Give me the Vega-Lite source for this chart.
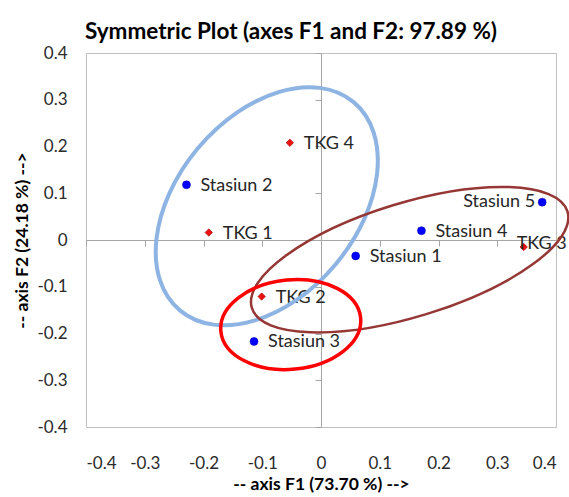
{
  "$schema": "https://vega.github.io/schema/vega-lite/v6.json",
  "width": 470,
  "height": 374,
  "autosize": {"type": "none"},
  "padding": {"left": 86, "top": 53, "right": 13, "bottom": 70},
  "background": "#ffffff",
  "title": {
    "text": "Symmetric Plot (axes F1 and F2: 97.89 %)",
    "anchor": "middle",
    "dx": -30,
    "dy": 31,
    "offset": 14,
    "fontSize": 22.5,
    "font": "Lato",
    "fontWeight": "bold",
    "color": "#000000",
    "baseline": "alphabetic"
  },
  "config": {
    "view": {"stroke": "#bfbfbf", "strokeWidth": 1},
    "font": "Lato"
  },
  "datasets": {
    "points": [
      {"name": "Stasiun 1", "type": "Stasiun", "F1": 0.059, "F2": -0.034},
      {"name": "Stasiun 2", "type": "Stasiun", "F1": -0.229, "F2": 0.118},
      {"name": "Stasiun 3", "type": "Stasiun", "F1": -0.114, "F2": -0.217},
      {"name": "Stasiun 4", "type": "Stasiun", "F1": 0.171, "F2": 0.020},
      {"name": "Stasiun 5", "type": "Stasiun", "F1": 0.3765, "F2": 0.081},
      {"name": "TKG 1", "type": "TKG", "F1": -0.191, "F2": 0.016},
      {"name": "TKG 2", "type": "TKG", "F1": -0.101, "F2": -0.121},
      {"name": "TKG 3", "type": "TKG", "F1": 0.345, "F2": -0.015},
      {"name": "TKG 4", "type": "TKG", "F1": -0.053, "F2": 0.208}
    ],
    "ellipses": [
      {"group": "blue", "F1": -0.0923, "F2": 0.0722},
      {"group": "brown", "F1": 0.1509, "F2": -0.0422},
      {"group": "red", "F1": -0.0515, "F2": -0.1809}
    ]
  },
  "resolve": {"axis": {"x": "independent", "y": "independent"}},
  "layer": [
    {
      "data": {"name": "points"},
      "transform": [{"filter": "datum.type == 'Stasiun'"}],
      "mark": {"type": "point", "shape": "circle", "filled": true, "fill": "#0000ff", "stroke": "#0000b0", "strokeWidth": 0.5, "size": 64, "opacity": 1},
      "encoding": {
        "x": {
          "field": "F1", "type": "quantitative",
          "scale": {"domain": [-0.4, 0.4], "nice": false, "zero": false},
          "axis": {
            "orient": "bottom",
            "title": "-- axis F1 (73.70 %) -->",
            "values": [-0.4, -0.3, -0.2, -0.1, 0, 0.1, 0.2, 0.3, 0.4],
            "labelExpr": "'' + datum.value",
            "domain": false, "ticks": false, "grid": false,
            "labelPadding": 28, "labelFontSize": 17, "labelFont": "Lato", "labelColor": "#2b2b2b",
            "titleFontSize": 17.5, "titleFont": "Lato", "titleFontWeight": "bold", "titleColor": "#000000",
            "titlePadding": 4
          }
        },
        "y": {
          "field": "F2", "type": "quantitative",
          "scale": {"domain": [-0.4, 0.4], "nice": false, "zero": false},
          "axis": {
            "orient": "left",
            "title": "-- axis F2 (24.18 %) -->",
            "values": [-0.4, -0.3, -0.2, -0.1, 0, 0.1, 0.2, 0.3, 0.4],
            "labelExpr": "'' + datum.value",
            "domain": false, "ticks": false, "grid": false,
            "labelPadding": 19, "labelFontSize": 17, "labelFont": "Lato", "labelColor": "#2b2b2b",
            "titleFontSize": 17.5, "titleFont": "Lato", "titleFontWeight": "bold", "titleColor": "#000000",
            "titlePadding": 5
          }
        }
      }
    },
    {
      "data": {"name": "points"},
      "transform": [{"filter": "datum.type == 'TKG'"}],
      "mark": {"type": "point", "shape": "diamond", "filled": true, "fill": "#ee1111", "stroke": "#990000", "strokeWidth": 0.6, "size": 55, "opacity": 1},
      "encoding": {
        "x": {
          "field": "F1", "type": "quantitative",
          "axis": {
            "orient": "bottom", "offset": -187, "title": null, "labels": false,
            "values": [-0.4, -0.3, -0.2, -0.1, 0, 0.1, 0.2, 0.3, 0.4],
            "domain": true, "domainColor": "#a6a6a6", "domainWidth": 1,
            "ticks": true, "tickColor": "#a6a6a6", "tickSize": 6, "tickWidth": 1, "grid": false
          }
        },
        "y": {
          "field": "F2", "type": "quantitative",
          "axis": {
            "orient": "left", "offset": -235, "title": null, "labels": false,
            "values": [-0.4, -0.3, -0.2, -0.1, 0, 0.1, 0.2, 0.3, 0.4],
            "domain": true, "domainColor": "#a6a6a6", "domainWidth": 1,
            "ticks": true, "tickColor": "#a6a6a6", "tickSize": 6, "tickWidth": 1, "grid": false
          }
        }
      }
    },
    {
      "data": {"name": "points"},
      "transform": [{"filter": "datum.name != 'Stasiun 5' && datum.name != 'TKG 3'"}],
      "mark": {"type": "text", "align": "left", "baseline": "middle", "dx": 14, "dy": 1, "fontSize": 18, "font": "Lato", "color": "#262626"},
      "encoding": {
        "x": {"field": "F1", "type": "quantitative", "axis": null},
        "y": {"field": "F2", "type": "quantitative", "axis": null},
        "text": {"field": "name"}
      }
    },
    {
      "data": {"name": "points"},
      "transform": [{"filter": "datum.name == 'Stasiun 5'"}],
      "mark": {"type": "text", "align": "right", "baseline": "middle", "dx": -7, "dy": 0, "fontSize": 18, "font": "Lato", "color": "#262626"},
      "encoding": {
        "x": {"field": "F1", "type": "quantitative", "axis": null},
        "y": {"field": "F2", "type": "quantitative", "axis": null},
        "text": {"field": "name"}
      }
    },
    {
      "data": {"name": "points"},
      "transform": [{"filter": "datum.name == 'TKG 3'"}],
      "mark": {"type": "text", "align": "left", "baseline": "middle", "dx": -7, "dy": -3, "fontSize": 18, "font": "Lato", "color": "#262626"},
      "encoding": {
        "x": {"field": "F1", "type": "quantitative", "axis": null},
        "y": {"field": "F2", "type": "quantitative", "axis": null},
        "text": {"field": "name"}
      }
    },
    {
      "data": {"name": "ellipses"},
      "transform": [{"filter": "datum.group == 'blue'"}],
      "mark": {"type": "point", "shape": "M-1,0A1,0.664,0,1,0,1,0A1,0.664,0,1,0,-1,0Z", "size": 73548, "angle": 309.85, "filled": false, "fill": null, "stroke": "#8db4e2", "strokeWidth": 4, "opacity": 1},
      "encoding": {
        "x": {"field": "F1", "type": "quantitative", "axis": null},
        "y": {"field": "F2", "type": "quantitative", "axis": null}
      }
    },
    {
      "data": {"name": "ellipses"},
      "transform": [{"filter": "datum.group == 'brown'"}],
      "mark": {"type": "point", "shape": "M-1,0A1,0.345,0,1,0,1,0A1,0.345,0,1,0,-1,0Z", "size": 108900, "angle": 343, "filled": false, "fill": null, "stroke": "#953735", "strokeWidth": 2.5, "opacity": 1},
      "encoding": {
        "x": {"field": "F1", "type": "quantitative", "axis": null},
        "y": {"field": "F2", "type": "quantitative", "axis": null}
      }
    },
    {
      "data": {"name": "ellipses"},
      "transform": [{"filter": "datum.group == 'red'"}],
      "mark": {"type": "point", "shape": "M-1,0A1,0.637,0,1,0,1,0A1,0.637,0,1,0,-1,0Z", "size": 19712, "angle": 354.5, "filled": false, "fill": null, "stroke": "#ff0000", "strokeWidth": 3.5, "opacity": 1},
      "encoding": {
        "x": {"field": "F1", "type": "quantitative", "axis": null},
        "y": {"field": "F2", "type": "quantitative", "axis": null}
      }
    }
  ]
}
